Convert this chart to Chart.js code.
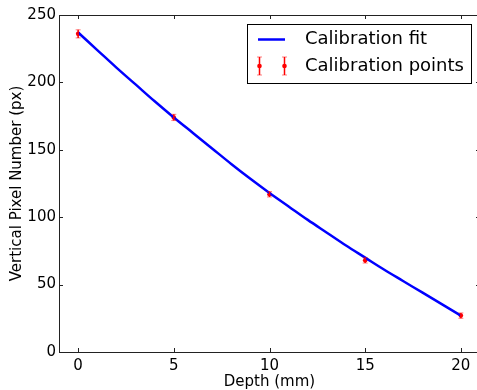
<!DOCTYPE html>
<html>
<head>
<meta charset="utf-8">
<script src="https://cdn.jsdelivr.net/npm/chart.js@4.4.1/dist/chart.umd.min.js"></script>
<style>
html,body{margin:0;padding:0;overflow:hidden;background:#fff;width:477px;height:390px;}
canvas{display:block;}
</style>
</head>
<body>
<canvas id="myChart" width="484" height="390"></canvas>
<script>
// calibration measurements
var depths=[0,5,10,15,20];
var pixels=[236,174,117,68,27];
var pixelErr=[3,2.3,2,2,2];
// fitted curve
var fitDepth=[0,1,2,3,4,5,6,7,8,9,10,11,12,13,14,15,16,17,18,19,20];
var fitPixel=[237,224,211,198.5,186,174,162.5,151,139.5,128.5,118,108,98,88.5,79,70,61,52.5,44,35.5,27];
var xTicks=[0,5,10,15,20];
var yTicks=[0,50,100,150,200,250];

var font="'DejaVu Sans', sans-serif";

function toXY(xs,ys) {
    var out=[];
    for(let i=0;i<xs.length;i++) out.push({x:xs[i],y:ys[i]});
    return out;
}

/*draws error bars, frame, inward ticks and the legend box*/
var extras={
    id:'extras',
    afterDatasetsDraw:function(chart) {
        var ctx=chart.ctx;
        var xs=chart.scales.x, ys=chart.scales.y;
        ctx.save();
        for(let i=0;i<depths.length;i++) {
            var px=xs.getPixelForValue(depths[i]);
            var top=ys.getPixelForValue(pixels[i]+pixelErr[i]);
            var bot=ys.getPixelForValue(pixels[i]-pixelErr[i]);
            ctx.strokeStyle='#ff0000';
            ctx.lineWidth=1.5;
            ctx.beginPath();
            ctx.moveTo(px,top);ctx.lineTo(px,bot);
            ctx.stroke();
            ctx.strokeStyle='rgba(255,0,0,0.5)';
            ctx.lineWidth=1;
            ctx.beginPath();
            ctx.moveTo(px-2.5,top);ctx.lineTo(px+2.5,top);
            ctx.moveTo(px-2.5,bot);ctx.lineTo(px+2.5,bot);
            ctx.stroke();
        }
        ctx.restore();
    },
    afterDraw:function(chart) {
        var ctx=chart.ctx;
        var a=chart.chartArea;
        var xs=chart.scales.x, ys=chart.scales.y;
        ctx.save();
        ctx.strokeStyle='#222';
        ctx.lineWidth=1;
        ctx.strokeRect(Math.round(a.left)+0.5,Math.round(a.top)+0.5,Math.round(a.right-a.left),Math.round(a.bottom-a.top));
        ctx.beginPath();
        for(let i=0;i<xTicks.length;i++) {
            var px=Math.round(xs.getPixelForValue(xTicks[i]))+0.5;
            ctx.moveTo(px,a.bottom);ctx.lineTo(px,a.bottom-4);
            ctx.moveTo(px,a.top);ctx.lineTo(px,a.top+4);
        }
        for(let i=0;i<yTicks.length;i++) {
            var py=Math.round(ys.getPixelForValue(yTicks[i]))+0.5;
            ctx.moveTo(a.left,py);ctx.lineTo(a.left+4,py);
            ctx.moveTo(a.right,py);ctx.lineTo(a.right-4,py);
        }
        ctx.stroke();

        // legend
        var lx=247.5, ly=24.5, lw=224, lh=59;
        ctx.fillStyle='#fff';
        ctx.fillRect(lx,ly,lw,lh);
        ctx.strokeStyle='#000';
        ctx.strokeRect(lx,ly,lw,lh);
        ctx.strokeStyle='#0000ff';
        ctx.lineWidth=2.5;
        ctx.beginPath();
        ctx.moveTo(258,39.5);ctx.lineTo(285,39.5);
        ctx.stroke();
        var marks=[259.5,284.5];
        for(let i=0;i<marks.length;i++) {
            var mx=marks[i], my=66;
            ctx.strokeStyle='#ff0000';
            ctx.lineWidth=1.5;
            ctx.beginPath();
            ctx.moveTo(mx,57);ctx.lineTo(mx,75);
            ctx.stroke();
            ctx.strokeStyle='rgba(255,0,0,0.5)';
            ctx.lineWidth=1;
            ctx.beginPath();
            ctx.moveTo(mx-2.5,57);ctx.lineTo(mx+2.5,57);
            ctx.moveTo(mx-2.5,75);ctx.lineTo(mx+2.5,75);
            ctx.stroke();
            ctx.fillStyle='#ff0000';
            ctx.beginPath();
            ctx.arc(mx,my,2.3,0,Math.PI*2);
            ctx.fill();
        }
        ctx.fillStyle='#000';
        ctx.font='18px '+font;
        ctx.textBaseline='middle';
        ctx.textAlign='left';
        ctx.fillText('Calibration fit',305,39);
        ctx.fillText('Calibration points',305,66);
        ctx.restore();
    }
};

var ctx=document.querySelector('#myChart').getContext('2d');
var myChart=new Chart(ctx,{
    type:'scatter',
    data:{
        datasets:[{
            label:'Calibration fit',
            type:'line',
            data:toXY(fitDepth,fitPixel),
            borderColor:'#0000ff',
            borderWidth:2.5,
            pointRadius:0,
            cubicInterpolationMode:'monotone',
            fill:false
        },{
            label:'Calibration points',
            data:toXY(depths,pixels),
            backgroundColor:'#ff0000',
            borderColor:'#ff0000',
            pointRadius:2.3,
            borderWidth:0
        }]
    },
    options:{
        responsive:false,
        animation:false,
        layout:{padding:{left:0,top:15,right:4,bottom:0}},
        plugins:{legend:{display:false},tooltip:{enabled:false}},
        scales:{
            x:{
                type:'linear',min:-1,max:21,
                afterBuildTicks:function(s){s.ticks=xTicks.map(function(v){return {value:v};});},
                afterFit:function(s){s.height=38;},
                grid:{display:false,drawTicks:false},
                border:{display:false},
                ticks:{color:'#000',font:{family:font,size:15},padding:5,maxRotation:0},
                title:{display:true,text:'Depth (mm)',color:'#000',font:{family:font,size:15},padding:{top:0,bottom:-1}}
            },
            y:{
                min:0,max:250,
                afterBuildTicks:function(s){s.ticks=yTicks.map(function(v){return {value:v};});},
                afterFit:function(s){s.width=59;},
                grid:{display:false,drawTicks:false},
                border:{display:false},
                ticks:{color:'#000',font:{family:font,size:15},padding:3},
                title:{display:true,text:'Vertical Pixel Number (px)',color:'#000',font:{family:font,size:15},padding:{top:8,bottom:0}}
            }
        }
    },
    plugins:[extras]
});
</script>
</body>
</html>
